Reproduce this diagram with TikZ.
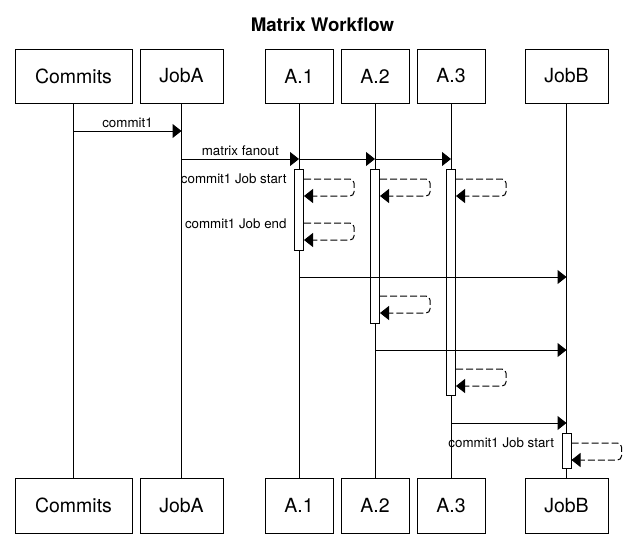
\documentclass[tikz,border=0pt]{standalone}
\usepackage{fontspec}
\setmainfont{TeX Gyre Heros}
\usepackage{tikz}
\usetikzlibrary{positioning,arrows.meta,calc}

\begin{document}
\begin{tikzpicture}[x=1pt, y=-1pt, line width=1pt,
    box/.style={draw, inner sep=0pt, outer sep=0pt, minimum height=54pt, font=\fontsize{19.5}{22}\selectfont},
    bar/.style={draw, fill=white, inner sep=0pt, minimum width=9pt, anchor=north},
    msg/.style={-{Triangle[length=9pt,width=14pt]}},
    selfmsg/.style={-{Triangle[length=9pt,width=14pt]}, dash pattern=on 7pt off 3pt, rounded corners=4pt},
    lbl/.style={font=\fontsize{13.33}{15}\selectfont, inner sep=3pt}]
    \fill[white] (0,0) rectangle (642,541);
    \useasboundingbox (0,0) rectangle (642,541);
    \node[font=\bfseries\fontsize{18.67}{22}\selectfont] (title) at (322.5,25) {Matrix Workflow};
    \node[box, minimum width=117pt] (cT) at (73.5,76) {Commits};
    \node[box, minimum width=83pt, right=8pt of cT] (jaT) {JobA};
    \node[box, minimum width=68pt, right=42pt of jaT] (a1T) {A.1};
    \node[box, minimum width=68pt, right=8pt of a1T] (a2T) {A.2};
    \node[box, minimum width=68pt, right=8pt of a2T] (a3T) {A.3};
    \node[box, minimum width=83pt, right=40pt of a3T] (jbT) {JobB};
    \foreach \n/\t/\w in {c/Commits/117, ja/JobA/83, a1/A.1/68, a2/A.2/68, a3/A.3/68, jb/JobB/83} {
        \node[box, minimum width=\w pt, minimum height=55pt, below=375pt of \n T] (\n B) {\t};
        \draw (\n T) -- (\n B);
    }
    \node[bar, minimum height=81pt] (bar1) at (a1T |- 0,169) {};
    \node[bar, minimum height=154pt] (bar2) at (a2T |- 0,169) {};
    \node[bar, minimum height=226pt] (bar3) at (a3T |- 0,169) {};
    \node[bar, minimum height=35pt] (barB) at (jbT |- 0,433) {};
    \draw[msg] (cT |- 0,131) -- node[lbl, above] (m1) {commit1} (jaT |- 0,131);
    \draw[msg] (jaT |- 0,159) -- node[lbl, above] (m2) {matrix fanout} (a1T |- 0,159);
    \draw[msg] (a1T |- 0,159) -- (a2T |- 0,159);
    \draw[msg] (a2T |- 0,159) -- (a3T |- 0,159);
    \draw[selfmsg] (bar1.east |- 0,179) -- ++(50,0) -- ++(0,17) -- (bar1.east |- 0,196);
    \draw[selfmsg] (bar2.east |- 0,179) -- ++(50,0) -- ++(0,17) -- (bar2.east |- 0,196);
    \draw[selfmsg] (bar3.east |- 0,179) -- ++(50,0) -- ++(0,17) -- (bar3.east |- 0,196);
    \node[lbl, anchor=east, xshift=-4pt] (s1) at (bar1.west |- 0,179) {commit1 Job start};
    \draw[selfmsg] (bar1.east |- 0,223) -- ++(50,0) -- ++(0,17) -- (bar1.east |- 0,240);
    \node[lbl, anchor=east, xshift=-4pt] (e1) at (bar1.west |- 0,224) {commit1 Job end};
    \draw[msg] (a1T |- 0,277) -- (jbT |- 0,277);
    \draw[selfmsg] (bar2.east |- 0,296) -- ++(50,0) -- ++(0,17) -- (bar2.east |- 0,313);
    \draw[msg] (a2T |- 0,350) -- (jbT |- 0,350);
    \draw[selfmsg] (bar3.east |- 0,369) -- ++(50,0) -- ++(0,17) -- (bar3.east |- 0,386);
    \draw[msg] (a3T |- 0,423) -- (jbT |- 0,423);
    \draw[selfmsg] (barB.east |- 0,443) -- ++(50,0) -- ++(0,17) -- (barB.east |- 0,460);
    \node[lbl, anchor=east, xshift=-4pt] (sB) at (barB.west |- 0,443) {commit1 Job start};
\end{tikzpicture}
\end{document}
